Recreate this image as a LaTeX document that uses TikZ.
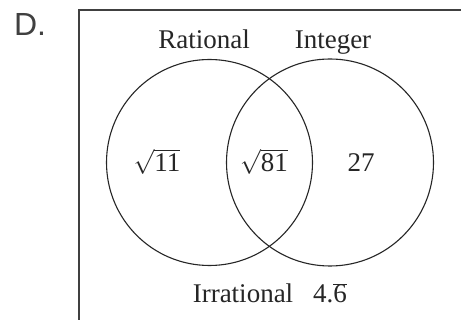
\documentclass[tikz,border=0pt]{standalone}
\usepackage{fontspec}
\setmainfont{Liberation Serif}
\newfontfamily\labelsans{Liberation Sans}
\begin{document}
\begin{tikzpicture}[x=1pt,y=-1pt,
  lbl/.style={font=\fontsize{27}{30}\selectfont, inner sep=0pt, anchor=base, text=black!85},
  setc/.style={draw=black!85, line width=1.1pt}]
\useasboundingbox (0,0) rectangle (461,320);
\fill[white] (0,0) rectangle (461,320);
\node[font=\labelsans\fontsize{32}{34}\selectfont, text=black!75, inner sep=0pt, anchor=base] (d) at (30,36) {D.};
\draw[black!75, line width=1.4pt] (79,345) -- (79,10) -- (480,10);
\node[setc, circle, minimum size=206pt, inner sep=0pt] (rat) at (209.5,162.5) {};
\node[setc, circle, minimum size=207pt, inner sep=0pt] (int) at (330,162.5) {};
\node[lbl] (rl) at (204,49) {Rational};
\node[lbl] (il) at (333,49) {Integer};
\node[lbl] (a) at (157,172) {$\sqrt{\hbox{11}}$};
\node[lbl] (b) at (264,172) {$\sqrt{\hbox{81}}$};
\node[lbl] (c) at (361,172) {27};
\node[lbl] (irr) at (243,303) {Irrational};
\node[lbl] (v) at (330,303) {4.$\overline{\hbox{6}}$};
\end{tikzpicture}
\end{document}
